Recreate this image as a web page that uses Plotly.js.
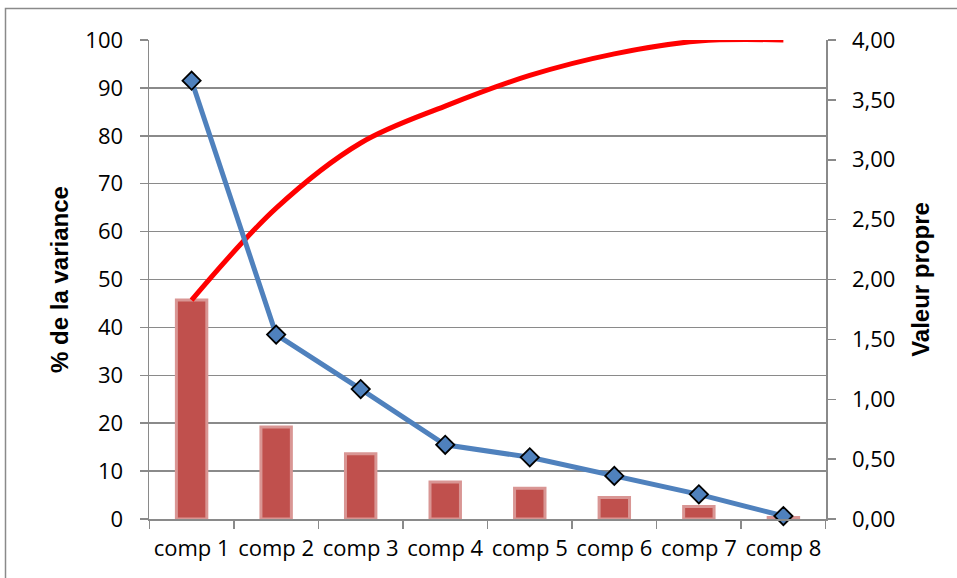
<!DOCTYPE html>
<html>
<head>
<meta charset="utf-8">
<script src="https://cdn.plot.ly/plotly-3.0.1.min.js"></script>
<style>
  html, body { margin: 0; padding: 0; background: #fff; }
  #chart { width: 957px; height: 578px; }
</style>
</head>
<body>
<div id="chart"></div>
<script>
const categories = ["comp 1", "comp 2", "comp 3", "comp 4", "comp 5", "comp 6", "comp 7", "comp 8"];
const pctVariance = [45.7, 19.2, 13.6, 7.7, 6.4, 4.5, 2.6, 0.3];
const cumulativePct = [45.7, 64.9, 78.5, 86.2, 92.6, 97.1, 99.8, 100];
const eigenvalues = [3.66, 1.54, 1.085, 0.62, 0.515, 0.36, 0.206, 0.025];
const leftTicks = [0, 10, 20, 30, 40, 50, 60, 70, 80, 90, 100];
const rightTicks = [0, 0.5, 1, 1.5, 2, 2.5, 3, 3.5, 4];

const axisGray = "#8a8a8a";
const tickFont = { family: "Open Sans, Lato, sans-serif", size: 22, color: "#000" };
const titleFont = { family: "Liberation Sans, Arial, sans-serif", size: 24, color: "#000", weight: "bold" };

const traces = [
  {
    type: "bar",
    x: categories,
    y: pctVariance,
    width: 0.36,
    marker: { color: "#C0504D", line: { color: "#D99694", width: 3 } },
    yaxis: "y",
    hoverinfo: "x+y",
    showlegend: false
  },
  {
    type: "scatter",
    mode: "lines",
    x: categories,
    y: cumulativePct,
    line: { color: "#FF0000", width: 5, shape: "spline", smoothing: 1 },
    yaxis: "y",
    showlegend: false
  },
  {
    type: "scatter",
    mode: "lines+markers",
    x: categories,
    y: eigenvalues,
    line: { color: "#4F81BD", width: 5 },
    marker: { symbol: "diamond", size: 14, color: "#4F81BD", line: { color: "#000", width: 1.8 } },
    yaxis: "y2",
    showlegend: false,
    cliponaxis: false
  }
];

const layout = {
  width: 957,
  height: 578,
  margin: { l: 149, r: 131, t: 40, b: 59 },
  paper_bgcolor: "#fff",
  plot_bgcolor: "#fff",
  separators: ", ",
  showlegend: false,
  bargap: 0,
  xaxis: {
    type: "category",
    tickson: "boundaries",
    tickangle: 0,
    ticks: "outside",
    ticklen: 8,
    tickwidth: 1.5,
    tickcolor: axisGray,
    showline: true,
    linecolor: axisGray,
    linewidth: 1.5,
    showgrid: false,
    tickfont: tickFont,
    ticklabelstandoff: 9
  },
  yaxis: {
    range: [0, 100],
    tickvals: leftTicks,
    ticks: "outside",
    ticklen: 8,
    tickwidth: 1.5,
    tickcolor: axisGray,
    showline: true,
    linecolor: axisGray,
    linewidth: 1.5,
    showgrid: true,
    gridcolor: axisGray,
    gridwidth: 1.5,
    zeroline: false,
    tickfont: tickFont,
    ticklabelstandoff: 12,
    title: { text: "% de la variance", font: titleFont, standoff: 10 }
  },
  yaxis2: {
    overlaying: "y",
    side: "right",
    range: [0, 4],
    tickvals: rightTicks,
    tickformat: ".2f",
    ticks: "outside",
    ticklen: 8,
    tickwidth: 1.5,
    tickcolor: axisGray,
    showline: true,
    linecolor: axisGray,
    linewidth: 1.5,
    showgrid: false,
    zeroline: false,
    tickfont: tickFont,
    ticklabelstandoff: 12,
    title: { text: "Valeur propre", font: titleFont, standoff: 18 }
  },
  shapes: [
    {
      type: "rect",
      xref: "paper", yref: "paper",
      x0: (5.5 - 149) / 677, x1: (962 - 149) / 677,
      y0: (519 - 585) / 479, y1: (519 - 8.5) / 479,
      line: { color: "#8a8a8a", width: 1.5 },
      fillcolor: "rgba(0,0,0,0)",
      layer: "below"
    }
  ]
};

Plotly.newPlot("chart", traces, layout, { displayModeBar: false, staticPlot: true });
</script>
</body>
</html>
